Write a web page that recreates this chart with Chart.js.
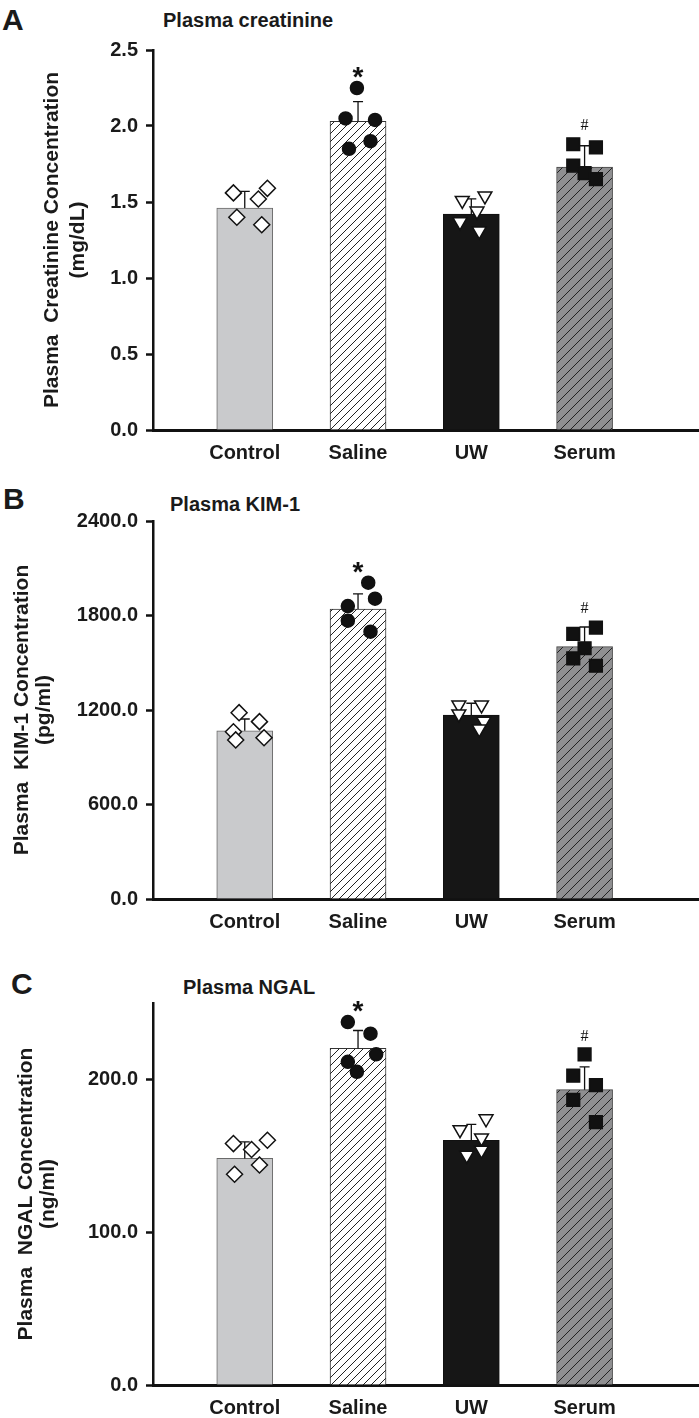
<!DOCTYPE html>
<html>
<head>
<meta charset="utf-8">
<script src="https://cdn.jsdelivr.net/npm/chart.js@4.4.1/dist/chart.umd.min.js"></script>
<style>
  body { margin: 0; background: #fff; width: 699px; height: 1418px; position: relative; overflow: hidden;
         font-family: "Liberation Sans", Arial, sans-serif; color: #1a1a1a; }
  canvas { position: absolute; left: 0; }
  .letter { position: absolute; font-weight: bold; font-size: 30px; line-height: 30px; }
  .title { position: absolute; font-weight: bold; font-size: 20px; line-height: 20px; white-space: nowrap; }
</style>
</head>
<body>
<div class="letter" style="left:2px;top:5px">A</div>
<div class="title" style="left:163px;top:10px">Plasma creatinine</div>
<canvas id="chartA" width="699" height="470" style="top:0"></canvas>

<div class="letter" style="left:3px;top:484px">B</div>
<div class="title" style="left:170px;top:494px">Plasma KIM-1</div>
<canvas id="chartB" width="699" height="470" style="top:470px"></canvas>

<div class="letter" style="left:11px;top:969px">C</div>
<div class="title" style="left:183px;top:977px">Plasma NGAL</div>
<canvas id="chartC" width="699" height="478" style="top:940px"></canvas>

<script>
const categories = ["Control", "Saline", "UW", "Serum"];
const sigMarks = ["", "*", "", "#"];

// A: plasma creatinine (mg/dL)
const creatMeans = [1.46, 2.03, 1.42, 1.73];
const creatSem = [0.11, 0.13, 0.10, 0.14];
const creatPoints = [
  [1.56, 1.59, 1.52, 1.40, 1.35],
  [2.25, 2.05, 2.04, 1.90, 1.85],
  [1.51, 1.54, 1.44, 1.37, 1.31],
  [1.88, 1.86, 1.74, 1.69, 1.65]
];
const creatTicks = [0, 0.5, 1.0, 1.5, 2.0, 2.5];

// B: plasma KIM-1 (pg/ml)
const kimMeans = [1068, 1841, 1168, 1602];
const kimSem = [75, 96, 75, 125];
const kimPoints = [
  [1183, 1126, 1062, 1010, 1024],
  [2008, 1907, 1860, 1767, 1697],
  [1232, 1232, 1175, 1128, 1080],
  [1723, 1683, 1592, 1528, 1481]
];
const kimTicks = [0, 600, 1200, 1800, 2400];

// C: plasma NGAL (ng/ml)
const ngalMeans = [148.3, 220.3, 160.2, 193.3];
const ngalSem = [10.8, 11.7, 10.4, 14.9];
const ngalPoints = [
  [158.0, 160.2, 154.1, 144.0, 137.9],
  [237.5, 229.9, 216.4, 211.5, 205.0],
  [174.2, 167.1, 161.7, 150.4, 153.7],
  [216.4, 202.4, 196.3, 186.6, 172.1]
];
const ngalTicks = [0, 100, 200];

// horizontal scatter of the dots around each bar centre (category units)
const jitterA = [[-0.10, 0.20, 0.12, -0.07, 0.15], [-0.01, -0.11, 0.15, 0.11, -0.08],
                 [-0.08, 0.12, 0.05, -0.10, 0.07], [-0.10, 0.10, -0.10, 0, 0.10]];
const jitterB = [[-0.05, 0.13, -0.10, -0.08, 0.17], [0.09, 0.15, -0.09, -0.09, 0.11],
                 [-0.11, 0.09, -0.11, 0.11, 0.07], [0.10, -0.10, 0, -0.10, 0.10]];
const jitterC = [[-0.10, 0.20, 0.06, 0.13, -0.09], [-0.09, 0.11, 0.16, -0.09, -0.01],
                 [0.13, -0.10, 0.09, -0.04, 0.09], [0, -0.10, 0.10, -0.10, 0.10]];

function hatch(bg, gap, color) {
  const c = document.createElement("canvas");
  c.width = c.height = gap;
  const g = c.getContext("2d");
  g.fillStyle = bg;
  g.fillRect(0, 0, gap, gap);
  g.strokeStyle = color;
  g.lineWidth = 1;
  g.beginPath();
  g.moveTo(0, gap); g.lineTo(gap, 0);
  g.moveTo(-1, 1); g.lineTo(1, -1);
  g.moveTo(gap - 1, gap + 1); g.lineTo(gap + 1, gap - 1);
  g.stroke();
  return g.createPattern(c, "repeat");
}

const barFills = ["#c9cacc", hatch("#ffffff", 8, "#222"), "#161616", hatch("#8f8f91", 10, "#222")];
const barBorders = ["#6a6a6a", "#333", "#111", "#444"];
const markers = [
  { style: "rectRot", r: 8, fill: "#fff", rot: 0 },
  { style: "circle", r: 6.5, fill: "#111", rot: 0 },
  { style: "triangle", r: 8, fill: "#fff", rot: 180 },
  { style: "rect", r: 9, fill: "#111", rot: 0 }
];

const errorBars = {
  id: "errorBars",
  afterDatasetDraw(chart, args, o) {
    if (args.index !== 0) return;
    const { ctx, scales: { x, y } } = chart;
    ctx.save();
    ctx.strokeStyle = "#111";
    ctx.lineWidth = 1.3;
    o.means.forEach((m, i) => {
      const px = x.getPixelForValue(i);
      const y0 = y.getPixelForValue(m);
      const y1 = y.getPixelForValue(m + o.sem[i]);
      ctx.beginPath();
      ctx.moveTo(px, y0); ctx.lineTo(px, y1);
      ctx.moveTo(px - 5, y1); ctx.lineTo(px + 5, y1);
      ctx.stroke();
    });
    ctx.restore();
  },
  afterDraw(chart, args, o) {
    const { ctx, scales: { x, y } } = chart;
    ctx.save();
    ctx.fillStyle = "#111";
    ctx.textAlign = "center";
    sigMarks.forEach((mark, i) => {
      if (!mark) return;
      const top = y.getPixelForValue(Math.max(...o.points[i], o.means[i] + o.sem[i]));
      if (mark === "*") {
        ctx.font = "bold 28px 'Liberation Sans'";
        ctx.textBaseline = "alphabetic";
        ctx.fillText(mark, x.getPixelForValue(i), top - 2);
      } else {
        ctx.font = "16px 'Liberation Serif'";
        ctx.textBaseline = "middle";
        ctx.fillText(mark, x.getPixelForValue(i), top - 18);
      }
    });
    ctx.restore();
  }
};

function makePanel(id, p) {
  const font = { family: "'Liberation Sans', Arial, sans-serif", size: 20, weight: "bold" };
  const datasets = [{
    type: "bar",
    data: p.means.map((m, i) => ({ x: i, y: m })),
    backgroundColor: barFills,
    borderColor: barBorders,
    borderWidth: 1,
    barThickness: 56,
    order: 2
  }];
  p.points.forEach((vals, i) => {
    datasets.push({
      type: "scatter",
      data: vals.map((v, k) => ({ x: i + p.jitter[i][k], y: v })),
      pointStyle: markers[i].style,
      pointRadius: markers[i].r,
      pointRotation: markers[i].rot,
      pointBackgroundColor: markers[i].fill,
      pointBorderColor: "#111",
      pointBorderWidth: 1.5,
      order: 1
    });
  });

  new Chart(document.getElementById(id), {
    type: "bar",
    data: { datasets },
    options: {
      responsive: false,
      animation: false,
      events: [],
      layout: { autoPadding: false, padding: { top: p.top, left: 0, right: 0, bottom: 0 } },
      plugins: {
        legend: { display: false },
        tooltip: { enabled: false },
        errorBars: { means: p.means, sem: p.sem, points: p.points }
      },
      scales: {
        x: {
          type: "linear",
          offset: false,
          min: -0.81,
          max: 4.01,
          afterBuildTicks: s => { s.ticks = categories.map((c, i) => ({ value: i })); },
          afterFit: s => { s.height = p.xHeight; s.paddingLeft = 0; s.paddingRight = 0; },
          ticks: { callback: v => categories[v], font, color: "#1a1a1a", padding: 11, maxRotation: 0, autoSkip: false },
          grid: { drawOnChartArea: false, drawTicks: false },
          border: { color: "#111", width: 3 }
        },
        y: {
          min: 0,
          max: p.max,
          afterBuildTicks: s => { s.ticks = p.ticks.map(v => ({ value: v })); },
          afterFit: s => { s.width = 153; },
          ticks: { callback: v => v.toFixed(1), font, color: "#1a1a1a", padding: 8 },
          grid: { drawOnChartArea: false, drawTicks: true, tickLength: 7, tickWidth: 2.5, tickColor: "#111" },
          border: { color: "#111", width: 2.5 },
          title: {
            display: true,
            text: p.title,
            color: "#1a1a1a",
            font: { family: "'Liberation Sans', Arial, sans-serif", size: 21, weight: "bold", lineHeight: p.lh },
            padding: { top: p.titleLeft, bottom: 0 }
          }
        }
      }
    },
    plugins: [errorBars]
  });
}

makePanel("chartA", {
  means: creatMeans, sem: creatSem, points: creatPoints, jitter: jitterA,
  ticks: creatTicks, max: 2.5, top: 50, xHeight: 40, titleLeft: 39, lh: 1.24,
  title: ["Plasma  Creatinine Concentration", "(mg/dL)"]
});
makePanel("chartB", {
  means: kimMeans, sem: kimSem, points: kimPoints, jitter: jitterB,
  ticks: kimTicks, max: 2400, top: 51, xHeight: 41, titleLeft: 11, lh: 1.05,
  title: ["Plasma  KIM-1 Concentration", "(pg/ml)"]
});
makePanel("chartC", {
  means: ngalMeans, sem: ngalSem, points: ngalPoints, jitter: jitterC,
  ticks: ngalTicks, max: 250, top: 63, xHeight: 33, titleLeft: 15, lh: 1.05,
  title: ["Plasma  NGAL Concentration", "(ng/ml)"]
});
</script>
</body>
</html>
